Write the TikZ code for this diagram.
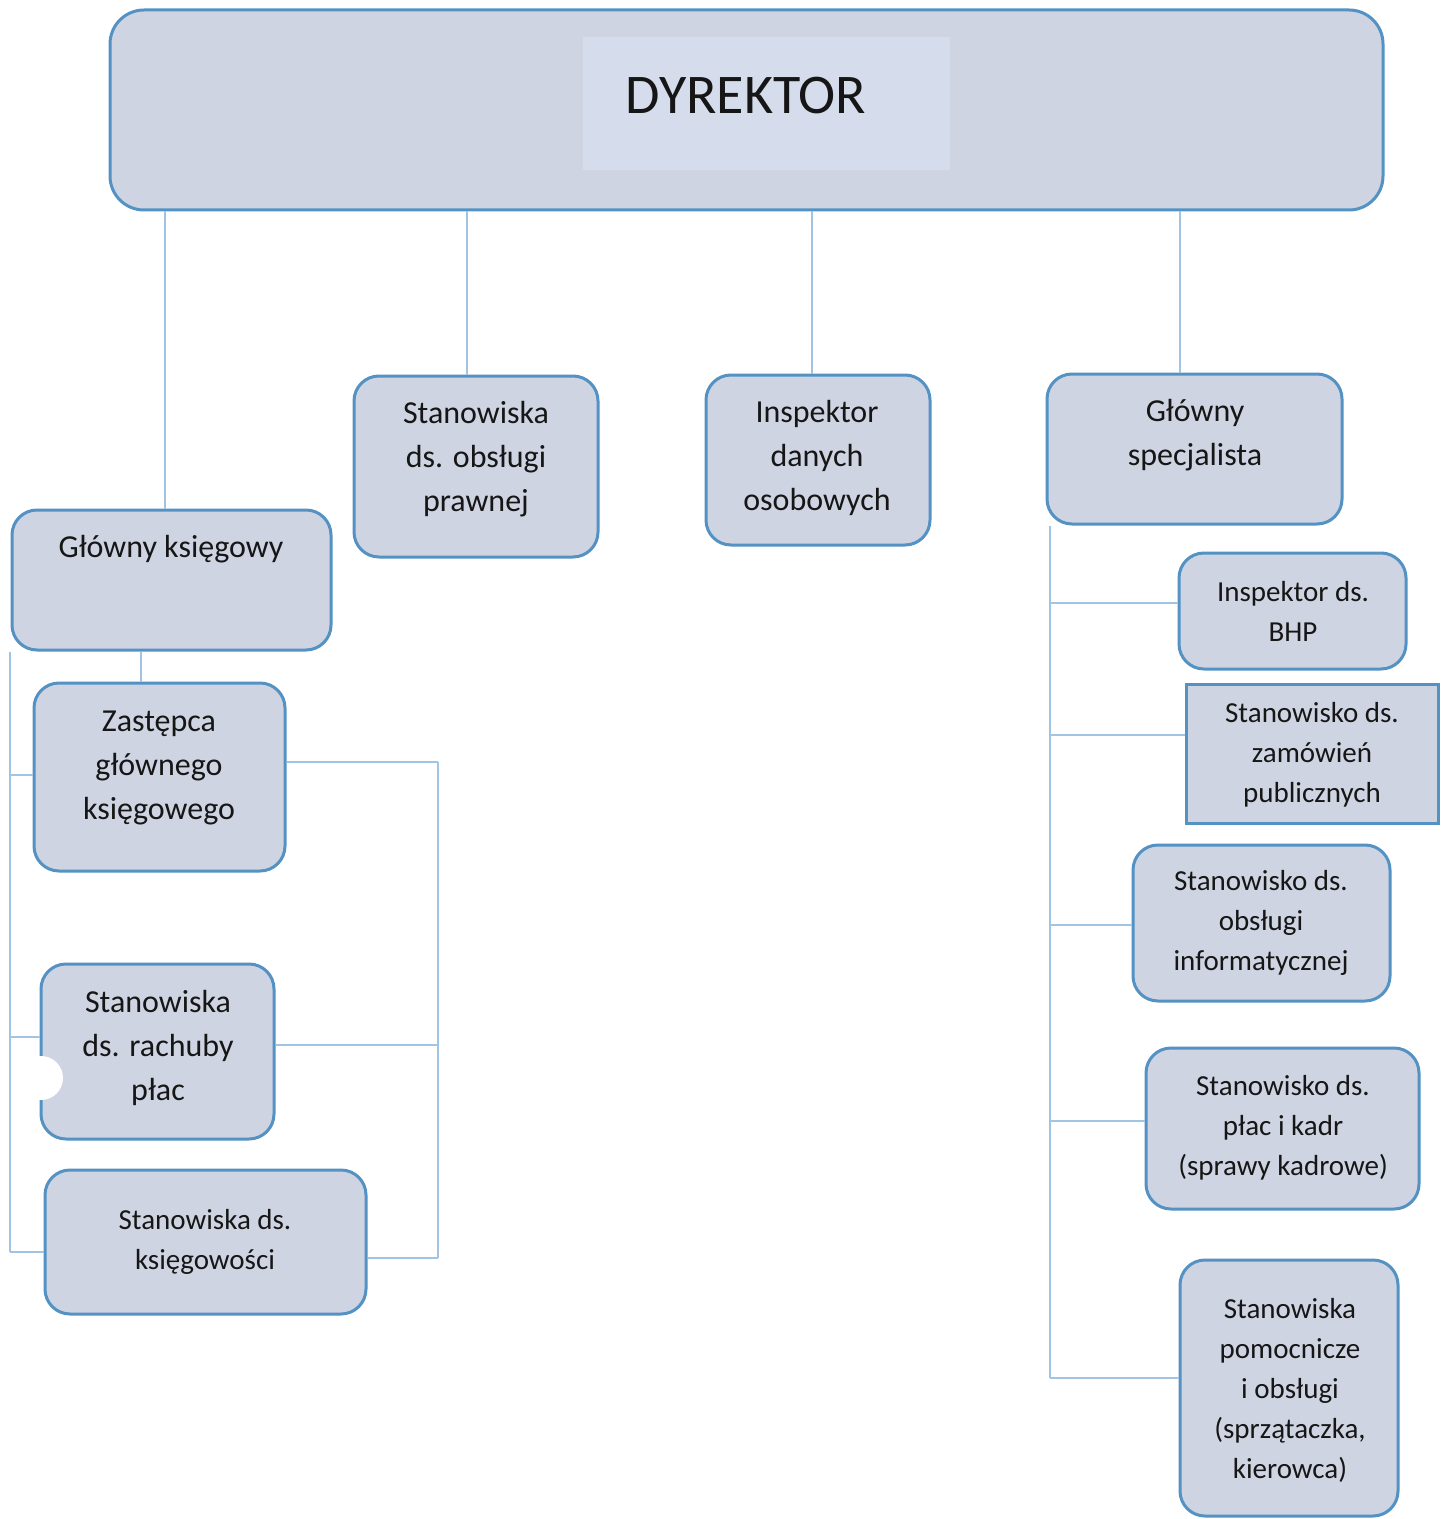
\documentclass[tikz,border=0pt]{standalone}
\usepackage{fontspec}
\setmainfont{Carlito}
\definecolor{boxfill}{RGB}{207,212,226}
\definecolor{boxpanel}{RGB}{213,221,236}
\definecolor{boxline}{RGB}{84,146,196}
\definecolor{connline}{RGB}{160,196,226}
\definecolor{txt}{RGB}{22,22,22}
\tikzset{
  box/.style={draw=boxline, line width=1.5pt, fill=boxfill, rounded corners=12.5pt, inner sep=0pt},
  sqbox/.style={draw=boxline, line width=1.5pt, fill=boxfill, inner sep=0pt},
  conn/.style={draw=connline, line width=0.8pt},
  bigtxt/.style={text=txt, align=center, font=\fontsize{16pt}{22pt}\selectfont, inner sep=0pt},
  smtxt/.style={text=txt, align=center, font=\fontsize{14.5pt}{20pt}\selectfont, inner sep=0pt}
}
\begin{document}
\begin{tikzpicture}[x=0.5pt, y=-0.5pt]
\useasboundingbox (0,0) rectangle (1447,1519);
\fill[white] (0,0) rectangle (1447,1519);

% bus coordinates
\coordinate (xg) at (165,0);
\coordinate (xp) at (467,0);
\coordinate (xi) at (812,0);
\coordinate (xs) at (1180,0);
\coordinate (lb) at (10,0);
\coordinate (rb) at (438,0);
\coordinate (sb) at (1050,0);

% boxes
\node[box, rounded corners=17pt, minimum width=636.5pt, minimum height=100pt] (dyr) at (746.5,110) {};
\fill[boxpanel] (583,37) rectangle (950,170);
\node[box, minimum width=159.5pt, minimum height=70pt] (gk) at (171.5,580) {};
\node[box, minimum width=122pt, minimum height=90.5pt] (praw) at (476,466.5) {};
\node[box, minimum width=112pt, minimum height=85pt] (ido) at (818,460) {};
\node[box, minimum width=147.5pt, minimum height=75pt] (gs) at (1194.5,449) {};
\node[box, minimum width=125.5pt, minimum height=94pt] (zgk) at (159.5,777) {};
\node[box, minimum width=116.5pt, minimum height=87.5pt] (rach) at (157.5,1051.5) {};
\fill[white] (41,1078) circle (11pt);
\node[box, minimum width=160.5pt, minimum height=72pt] (ksieg) at (205.5,1242) {};
\node[box, minimum width=113.5pt, minimum height=58pt] (bhp) at (1292.5,611) {};
\node[sqbox, minimum width=126pt, minimum height=69.5pt] (zam) at (1312,753.5) {};
\node[box, minimum width=128.5pt, minimum height=78pt] (inf) at (1261.5,923) {};
\node[box, minimum width=136.5pt, minimum height=80.5pt] (kadr) at (1282.5,1128.5) {};
\node[box, minimum width=109pt, minimum height=128pt] (pom) at (1289,1388) {};

% texts
\node[text=txt, font=\fontsize{28pt}{32pt}\selectfont, inner sep=0pt] (tdyr) at (746,96) {DYREKTOR};
\node[bigtxt] (tgk) at (171,549) {Główny księgowy};
\node[bigtxt] (tpraw) at (476,459) {Stanowiska\\ds. obsługi\\prawnej};
\node[bigtxt] (tido) at (817,458) {Inspektor\\danych\\osobowych};
\node[bigtxt] (tgs) at (1195,435) {Główny\\specjalista};
\node[bigtxt] (tzgk) at (159,768) {Zastępca\\głównego\\księgowego};
\node[bigtxt] (track) at (158,1048) {Stanowiska\\ds. rachuby\\płac};
\node[smtxt] (tksieg) at (205,1242) {Stanowiska ds.\\księgowości};
\node[smtxt] (tbhp) at (1293,611) {Inspektor ds.\\BHP};
\node[smtxt] (tzam) at (1312,755) {Stanowisko ds.\\zamówień\\publicznych};
\node[smtxt] (tinf) at (1261,923) {Stanowisko ds.\\obsługi\\informatycznej};
\node[smtxt] (tkadr) at (1283,1128) {Stanowisko ds.\\płac i kadr\\(sprawy kadrowe)};
\node[smtxt] (tpom) at (1290,1390) {Stanowiska\\pomocnicze\\i obsługi\\(sprzątaczka,\\kierowca)};

% connectors from director
\draw[conn] (dyr.south -| xg) -- (gk.north -| xg);
\draw[conn] (dyr.south -| xp) -- (praw.north -| xp);
\draw[conn] (dyr.south -| xi) -- (ido.north -| xi);
\draw[conn] (dyr.south -| xs) -- (gs.north -| xs);

% chief accountant
\coordinate (gz) at (141,0);
\draw[conn] (gk.south -| gz) -- (zgk.north -| gz);
\coordinate (L1) at (10,775);
\coordinate (L2) at (10,1037);
\coordinate (L3) at (10,1252);
\draw[conn] (gk.south -| lb) -- (L3);
\draw[conn] (L1) -- (zgk.west |- L1);
\draw[conn] (L2) -- (rach.west |- L2);
\draw[conn] (L3) -- (ksieg.west |- L3);
\coordinate (R1) at (438,762);
\coordinate (R2) at (438,1045);
\coordinate (R3) at (438,1258);
\draw[conn] (R1) -- (R3);
\draw[conn] (zgk.east |- R1) -- (R1);
\draw[conn] (rach.east |- R2) -- (R2);
\draw[conn] (ksieg.east |- R3) -- (R3);

% chief specialist
\coordinate (S1) at (1050,603);
\coordinate (S2) at (1050,735);
\coordinate (S3) at (1050,925);
\coordinate (S4) at (1050,1121);
\coordinate (S5) at (1050,1378);
\draw[conn] (gs.south -| sb) -- (S5);
\draw[conn] (S1) -- (bhp.west |- S1);
\draw[conn] (S2) -- (zam.west |- S2);
\draw[conn] (S3) -- (inf.west |- S3);
\draw[conn] (S4) -- (kadr.west |- S4);
\draw[conn] (S5) -- (pom.west |- S5);
\end{tikzpicture}
\end{document}
